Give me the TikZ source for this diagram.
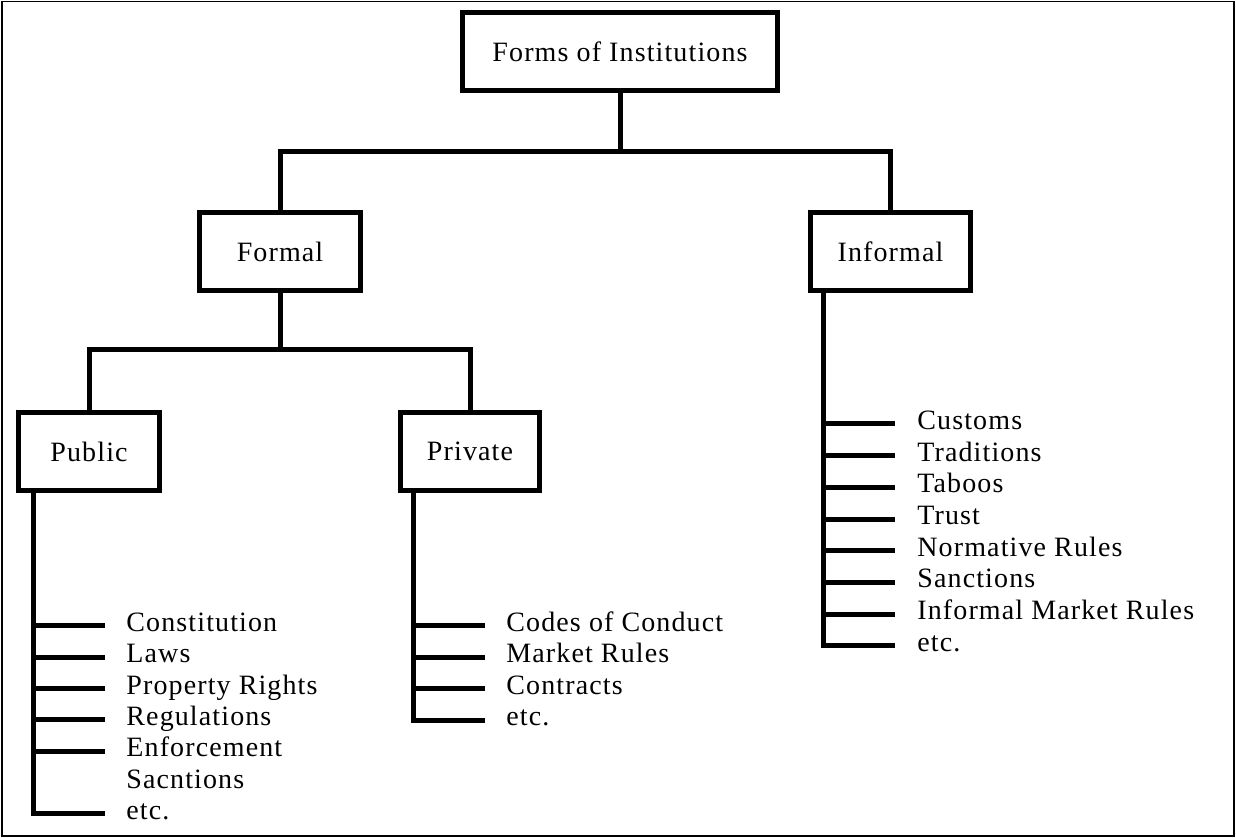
\documentclass[tikz,border=0pt]{standalone}
\usepackage{fontspec}
\setmainfont{Liberation Serif}[LetterSpace=4]
\begin{document}
\begin{tikzpicture}[x=0.5pt,y=-0.5pt,
  txt/.style={font=\fontsize{14}{16}\selectfont},
  box/.style={draw, line width=2.5pt, inner sep=0pt, minimum height=39pt, txt},
  item/.style={anchor=base west, inner sep=0pt, txt},
  conn/.style={line width=2.5pt}]
\useasboundingbox (0,0) rectangle (1236,838);
\draw[line width=0.8pt] (2,1.5) rectangle (1234,836);
% boxes
\node[box, minimum width=157.5pt] (top) at (620,51.5) {Forms of Institutions};
\node[box, minimum width=80.5pt] (form) at (280,251.5) {Formal};
\node[box, minimum width=80pt] (inf) at (890.5,251.5) {Informal};
\node[box, minimum width=70.5pt] (pub) at (89,451.5) {Public};
\node[box, minimum width=69.5pt] (priv) at (470,451.5) {Private};
% junctions
\coordinate (j1) at (620,152);
\coordinate (j2) at (280,350);
\draw[conn] (top.south) -- (j1);
\draw[conn] (form.north) |- (j1) -| (inf.north);
\draw[conn] (form.south) -- (j2);
\draw[conn] (pub.north) |- (j2) -| (priv.north);
% Public list
\coordinate (pubtop) at (33,493);
\coordinate (pubend) at (105,813.8);
\draw[conn] (pubtop) |- (pubend);
\foreach \t/\n [count=\i from 0] in {Constitution/p1,Laws/p2,Property Rights/p3,Regulations/p4,Enforcement/p5,Sacntions/p6,etc./p7}{
  \node[item] (\n) at (126,{626+31.3*\i+5.5}) {\t};
}
\foreach \i in {0,...,4}{
  \draw[conn] (33,{626+31.3*\i}) -- (105,{626+31.3*\i});
}
% Private list
\coordinate (privtop) at (413,493);
\coordinate (privend) at (485,720);
\draw[conn] (privtop) |- (privend);
\foreach \t/\n [count=\i from 0] in {Codes of Conduct/q1,Market Rules/q2,Contracts/q3,etc./q4}{
  \node[item] (\n) at (506,{626+31.3*\i+5.5}) {\t};
}
\foreach \i in {0,...,2}{
  \draw[conn] (413,{626+31.3*\i}) -- (485,{626+31.3*\i});
}
% Informal list
\coordinate (inftop) at (823,292);
\coordinate (infend) at (895,646);
\draw[conn] (inftop) |- (infend);
\foreach \t/\n [count=\i from 0] in {Customs/r1,Traditions/r2,Taboos/r3,Trust/r4,Normative Rules/r5,Sanctions/r6,Informal Market Rules/r7,etc./r8}{
  \node[item] (\n) at (917,{424+31.7*\i+5.5}) {\t};
}
\foreach \i in {0,...,6}{
  \draw[conn] (823,{424+31.7*\i}) -- (895,{424+31.7*\i});
}
\end{tikzpicture}
\end{document}
